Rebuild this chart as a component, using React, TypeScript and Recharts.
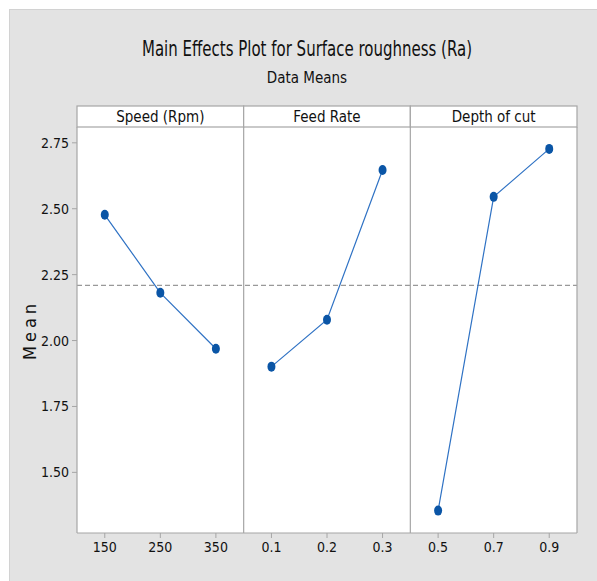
import React from "react";
import { LineChart, Line, XAxis, YAxis, ReferenceLine, CartesianGrid } from "recharts";

// factor levels and their data means
const factorNames = ["Speed (Rpm)", "Feed Rate", "Depth of cut"];
const speedLevels = ["150", "250", "350"];
const speedMeans = [2.477, 2.181, 1.969];
const feedLevels = ["0.1", "0.2", "0.3"];
const feedMeans = [1.901, 2.079, 2.647];
const depthLevels = ["0.5", "0.7", "0.9"];
const depthMeans = [1.355, 2.545, 2.727];
const grandMean = 2.209;
const yTicks = [1.5, 1.75, 2.0, 2.25, 2.5, 2.75];

const W = 597;
const H = 581;
const FONT = "'DejaVu Sans', 'Noto Sans', sans-serif";
const LINE = "#2f72c4";
const DOT = "#0a55a6";
const FRAME = "#a6a6a6";
const txt = { fontFamily: FONT, fontStretch: "condensed" as const };

const allLevels = [...speedLevels, ...feedLevels, ...depthLevels];

// each factor gets its own block of three slots on a shared 0..9 x axis
function toSeries(means: number[], block: number) {
  return means.map((m, i) => ({ pos: block * 3 + i + 0.5, mean: m }));
}
const speedData = toSeries(speedMeans, 0);
const feedData = toSeries(feedMeans, 1);
const depthData = toSeries(depthMeans, 2);

const HEADER_TOP = 106;
const HEADER_H = 21;
const margin = { top: HEADER_TOP + HEADER_H, right: 20, bottom: 18, left: 0 };
const Y_AXIS_W = 77;
const plotLeft = margin.left + Y_AXIS_W;
const plotW = W - margin.left - margin.right - Y_AXIS_W;
const panelW = plotW / factorNames.length;

const EllipseDot = (props: any) => {
  const { cx, cy } = props;
  if (!isFinite(cx) || !isFinite(cy)) return <g />;
  return <ellipse cx={cx} cy={cy} rx={4} ry={5} fill={DOT} />;
};

export default function App() {
  return (
    <div style={{ position: "absolute", left: 0, top: 0, width: W, height: H, background: "#fff", overflow: "hidden" }}>
      <div style={{
        position: "absolute", left: 9, top: 9, right: 0, bottom: 0,
        background: "#e3e3e3", borderTop: "1px solid #d2d2d2", borderLeft: "1px solid #d2d2d2",
      }} />
      <div style={{ position: "absolute", left: 0, top: 0 }}>
        <LineChart width={W} height={H} margin={margin}>
          <CartesianGrid horizontal={false} vertical={false} fill="#fff" />
          <XAxis dataKey="pos" type="number" domain={[0, 9]} ticks={allLevels.map((_, i) => i + 0.5)}
                 tickFormatter={(v: number) => allLevels[Math.floor(v)]} height={30}
                 tick={{ fill: "#111", fontSize: 14, ...txt }} tickSize={5} tickMargin={4}
                 axisLine={{ stroke: FRAME, strokeWidth: 1.2 }} tickLine={{ stroke: FRAME }} />
          <YAxis type="number" domain={[1.27, 2.81]} ticks={yTicks} width={Y_AXIS_W}
                 tickFormatter={(v: number) => v.toFixed(2)} allowDataOverflow
                 tick={{ fill: "#111", fontSize: 14, ...txt }} tickSize={5} tickMargin={3}
                 axisLine={{ stroke: FRAME, strokeWidth: 1.2 }} tickLine={{ stroke: FRAME }}
                 label={{ value: "Mean", angle: -90, position: "insideLeft", offset: 30,
                          style: { fontSize: 18, fill: "#111", ...txt, letterSpacing: 4, textAnchor: "middle" } }} />
          <ReferenceLine y={grandMean} stroke="#999" strokeDasharray="5 3" strokeWidth={1.3} />
          <ReferenceLine x={3} stroke={FRAME} strokeWidth={1.2} />
          <ReferenceLine x={6} stroke={FRAME} strokeWidth={1.2} />
          <ReferenceLine x={9} stroke={FRAME} strokeWidth={1.2} />
          <Line data={speedData} dataKey="mean" stroke={LINE} strokeWidth={1.2} dot={<EllipseDot />} activeDot={false} isAnimationActive={false} />
          <Line data={feedData} dataKey="mean" stroke={LINE} strokeWidth={1.2} dot={<EllipseDot />} activeDot={false} isAnimationActive={false} />
          <Line data={depthData} dataKey="mean" stroke={LINE} strokeWidth={1.2} dot={<EllipseDot />} activeDot={false} isAnimationActive={false} />
        </LineChart>
      </div>
      <svg width={W} height={H} style={{ position: "absolute", left: 0, top: 0, pointerEvents: "none" }}>
        <text x={307} y={56} textAnchor="middle" fontSize={21} fill="#111" style={txt}
              textLength={330} lengthAdjust="spacingAndGlyphs">
          Main Effects Plot for Surface roughness (Ra)
        </text>
        <text x={307} y={83} textAnchor="middle" fontSize={15} fill="#111" style={txt}>
          Data Means
        </text>
        {factorNames.map((name, i) => (
          <g key={name}>
            <rect x={plotLeft + i * panelW} y={HEADER_TOP} width={panelW} height={HEADER_H}
                  fill="#fff" stroke={FRAME} strokeWidth={1.2} />
            <text x={plotLeft + (i + 0.5) * panelW} y={HEADER_TOP + HEADER_H / 2 + 5} textAnchor="middle"
                  fontSize={15} fill="#111" style={txt}>
              {name}
            </text>
          </g>
        ))}
      </svg>
    </div>
  );
}
